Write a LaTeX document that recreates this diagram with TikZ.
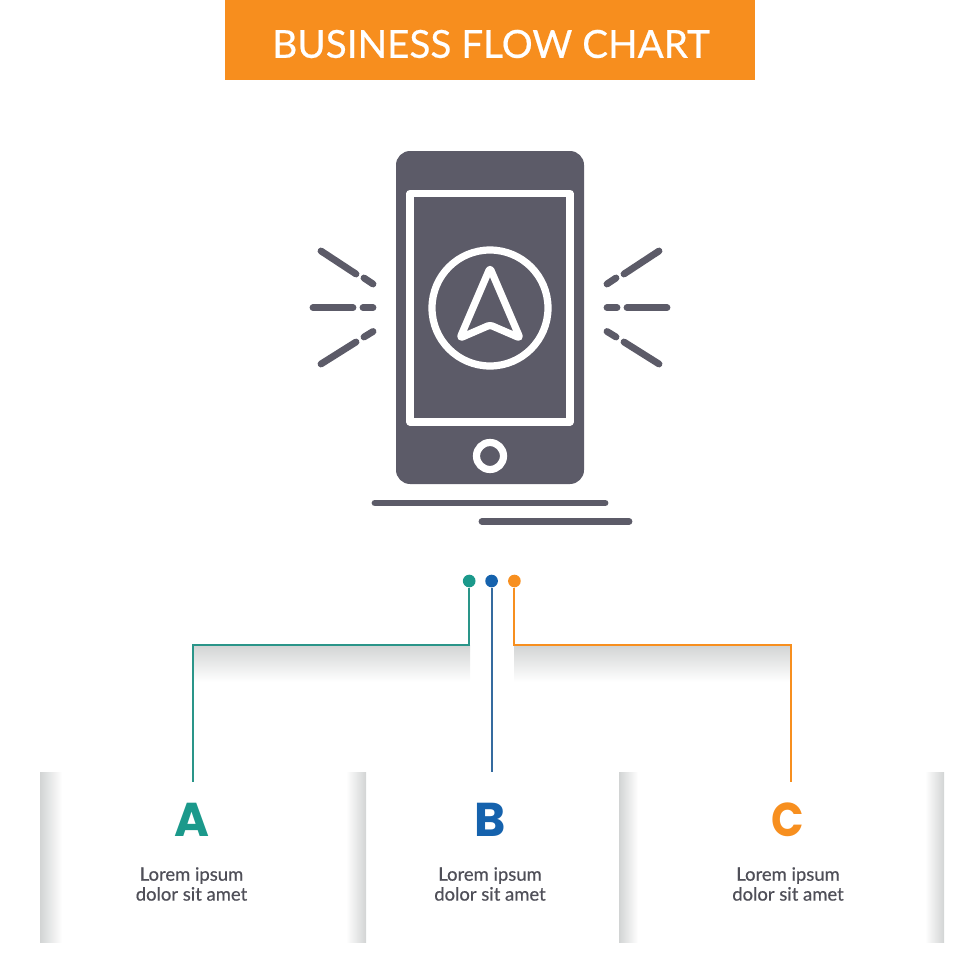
\documentclass[tikz,border=0pt]{standalone}
\usepackage{fontspec}
\setmainfont{Lato}
\newfontfamily\medfont[FakeBold=0.5]{Lato}
\newfontfamily\heavyfont{Poppins}
\usepackage{tikz}
\usetikzlibrary{positioning}

\definecolor{bannerorange}{HTML}{F78E1E}
\definecolor{phonegray}{HTML}{5C5B68}
\definecolor{tealc}{HTML}{1B998B}
\definecolor{bluec}{HTML}{1562AD}
\definecolor{orangec}{HTML}{F78F1F}
\definecolor{textgray}{HTML}{4F4F58}
\definecolor{shadegray}{HTML}{D2D4D4}
\definecolor{shademid}{HTML}{EEEFEF}

\tikzset{
    iconline/.style={draw=phonegray, line width=3.9pt, line cap=round},
    whiteline/.style={draw=white, line width=4.1pt, line join=round},
    dot/.style={circle, inner sep=0pt, minimum size=7.2pt},
    wire/.style={line width=1.2pt},
    letter/.style={font=\heavyfont\bfseries\fontsize{27}{27}\selectfont},
    caption/.style={font=\medfont\fontsize{10.5}{11.34}\selectfont, text=textgray, align=center, anchor=center}
}

\begin{document}
\begin{tikzpicture}[x=0.02cm, y=-0.02cm]
    \useasboundingbox (0,0) rectangle (980,980);

    % Banner
    \fill[bannerorange] (225,0) rectangle (755,80);
    \node[text=white, font=\medfont\fontsize{22}{22}\selectfont] (title) at (491,44) {BUSINESS FLOW CHART};

    % Phone body
    \fill[phonegray, rounded corners=8pt] (396,151) rectangle (584,484);
    \draw[whiteline] (410,193.5) rectangle (570,422);
    \draw[whiteline] (490,308) circle (58);
    \draw[whiteline, rounded corners=1.5pt] (490,268) -- (520,338) -- (490,325) -- (460,338) -- cycle;
    \draw[whiteline] (490,456) circle (13.5);

    % Lines under the phone
    \draw[iconline] (375,503) -- (605,503);
    \draw[iconline] (482,521.5) -- (629,521.5);

    % Rays on the left
    \draw[iconline] (321,251) -- (356,274);
    \draw[iconline] (364,278) -- (373,284);
    \draw[iconline] (313,307.7) -- (353,307.7);
    \draw[iconline] (363,307.7) -- (373,307.7);
    \draw[iconline] (321,364) -- (356,342);
    \draw[iconline] (364,337) -- (373,331.5);

    % Rays on the right
    \draw[iconline] (659,251) -- (624,274);
    \draw[iconline] (616,278) -- (607,284);
    \draw[iconline] (667,307.7) -- (627,307.7);
    \draw[iconline] (617,307.7) -- (607,307.7);
    \draw[iconline] (659,364) -- (624,342);
    \draw[iconline] (616,337) -- (607,331.5);

    % Shadows under the wires
    \shade[top color=shadegray, middle color=shademid, bottom color=white] (193,645) rectangle (470,682);
    \shade[top color=shadegray, middle color=shademid, bottom color=white] (514,645) rectangle (791,682);

    % Shadows at the panel edges
    \shade[left color=shadegray, middle color=shademid, right color=white] (40,772) rectangle (62,942);
    \shade[left color=white, middle color=shademid, right color=shadegray] (346,772) rectangle (366,942);
    \shade[left color=shadegray, middle color=shademid, right color=white] (619,772) rectangle (638,942);
    \shade[left color=white, middle color=shademid, right color=shadegray] (925,772) rectangle (944,942);

    % Dots and wires
    \node[dot, fill=tealc] (dotA) at (469.2,581) {};
    \node[dot, fill=bluec] (dotB) at (491.6,581) {};
    \node[dot, fill=orangec] (dotC) at (514.4,581) {};
    \coordinate (kneeA) at (192.8,645);
    \coordinate (kneeC) at (791,645);
    \coordinate (endA) at (192.8,782);
    \coordinate (endB) at (491.6,772);
    \coordinate (endC) at (791,782);
    \draw[wire, draw=tealc!85!gray] (dotA) |- (kneeA) -- (endA);
    \draw[wire, draw=bluec!70!gray] (dotB) -- (endB);
    \draw[wire, draw=orangec] (dotC) |- (kneeC) -- (endC);

    % Letters
    \node[letter, text=tealc] (letterA) at (192,820) {A};
    \node[letter, text=bluec] (letterB) at (490.5,820) {B};
    \node[letter, text=orangec, xscale=0.9] (letterC) at (788,820) {C};

    % Captions
    \node[caption] (textA) at (191.5,884) {Lorem ipsum\\dolor sit amet};
    \node[caption] (textB) at (490,884) {Lorem ipsum\\dolor sit amet};
    \node[caption] (textC) at (788,884) {Lorem ipsum\\dolor sit amet};
\end{tikzpicture}
\end{document}
